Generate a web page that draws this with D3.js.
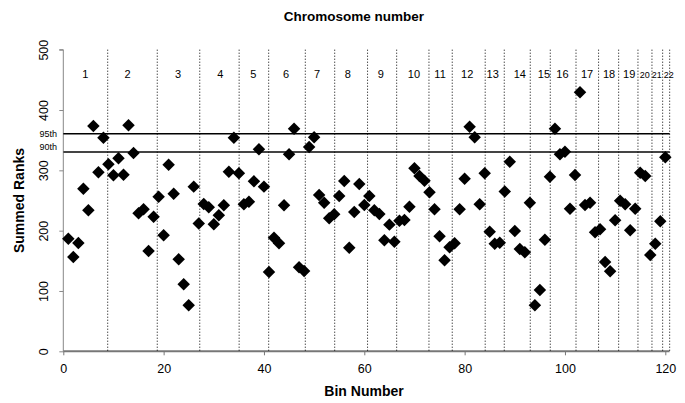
<!DOCTYPE html>
<html>
<head>
<meta charset="utf-8">
<script src="https://cdn.jsdelivr.net/npm/d3@7"></script>
<style>
  body { margin: 0; background: #fff; }
  text { font-family: "Liberation Sans", Arial, sans-serif; }
</style>
</head>
<body>
<svg id="chart" width="685" height="403"></svg>
<script>
// summed rank for each bin (bin 1..120)
const summedRanks = [
  186.7, 156.3, 179.5, 269.6, 234, 373.5, 296.7, 354, 310, 292,
  320, 292.8, 374.7, 328.7, 228.8, 235.4, 166.3, 223, 256.3, 192.3,
  309.4, 261.3, 152.5, 111, 76.2, 273, 212, 244, 238.7, 210.5,
  225.4, 242, 297.8, 354, 295, 243.7, 248, 281.8, 334.8, 273,
  131.5, 188.3, 179, 242, 326.6, 369, 139.3, 133.1, 338.7, 354.8,
  259, 246.4, 220.5, 227.1, 257.5, 282.3, 171.8, 231, 277.4, 242.5,
  257.5, 233.7, 227.6, 184, 210, 181.7, 216.5, 217.7, 239.7, 303.4,
  290.6, 282.8, 263.6, 235.4, 190.6, 150.9, 172.4, 179, 235.4, 286.2,
  372.4, 354.8, 243.7, 295, 198.3, 178.4, 180, 265, 314.3, 199.4,
  169.6, 164.1, 246.4, 76.2, 101.6, 185, 289.5, 369, 326.6, 331,
  236.4, 292.3, 429.4, 242.5, 246.4, 197.3, 202.2, 148, 132.6, 217.2,
  249.7, 243.7, 200.6, 236.4, 296, 290.6, 159.6, 178.4, 215.5, 321.6
];
const bins = summedRanks.map((d, i) => i + 1);

// chromosome boundaries (in bin units) and label positions
const boundaries = [8.85, 18.73, 27.2, 35.05, 40.94, 48.24, 54.1, 60.65, 66.45, 72.89,
  77.53, 84.1, 87.9, 93.08, 97.07, 102.2, 106.7, 110.7, 114.55, 117.34, 119.47, 120.87];
const chromosomes = ["1","2","3","4","5","6","7","8","9","10","11","12","13","14","15",
  "16","17","18","19","20","21","22"];
const labelPos = [4.4, 12.8, 22.9, 31.3, 37.9, 44.4, 50.6, 56.7, 63.3, 69.9, 75.1, 80.5,
  85.6, 91.0, 95.8, 99.5, 104.4, 108.8, 112.8, 115.9, 118.3, 120.7];

const thresholds = [360.7, 330.4];
const thresholdLabels = ["95th", "90th"];
const xTicks = [0, 20, 40, 60, 80, 100, 120];
const yTicks = [0, 100, 200, 300, 400, 500];

const svg = d3.select("#chart");
const x = d3.scaleLinear().domain([0, 120]).range([63.3, 665.3]);
const y = d3.scaleLinear().domain([0, 500]).range([351.3, 49.7]);

// title
svg.append("text")
  .attr("x", 354).attr("y", 21)
  .attr("text-anchor", "middle")
  .style("font-size", "13.5px").style("font-weight", "bold")
  .text("Chromosome number");

// y axis
const yAxis = svg.append("g")
  .attr("transform", `translate(${x(0)},0)`)
  .call(d3.axisLeft(y).tickValues(yTicks).tickSize(4).tickFormat(d3.format("d")));
yAxis.select(".domain").attr("stroke", "#888").attr("d", `M-4,${y(500)}H0V${y(0)}`);
yAxis.selectAll(".tick line").attr("stroke", "#888");
yAxis.selectAll(".tick text")
  .attr("transform", "rotate(-90)")
  .attr("x", 0).attr("dy", null)
  .attr("y", -15)
  .attr("text-anchor", "middle")
  .style("font-size", "12.5px")
  .attr("fill", "#000");
// rotate labels around their tick position
yAxis.selectAll(".tick text")
  .attr("transform", null)
  .each(function() {
    d3.select(this).attr("transform", "translate(-20,0) rotate(-90)").attr("y", 0).attr("x", 0)
      .attr("dy", "0.35em");
  });

// x axis
const xAxis = svg.append("g")
  .attr("transform", `translate(0,${y(0)})`)
  .call(d3.axisBottom(x).tickValues(xTicks).tickSize(4).tickPadding(9));
xAxis.select(".domain").attr("stroke", "#777").attr("stroke-width", 2)
  .attr("d", `M${x(0)},0H${x(120.85)}`);
xAxis.selectAll(".tick line").attr("stroke", "#777");
xAxis.selectAll(".tick text").style("font-size", "12.5px").attr("fill", "#000");

// axis titles
svg.append("text")
  .attr("x", 364).attr("y", 396)
  .attr("text-anchor", "middle")
  .style("font-size", "14px").style("font-weight", "bold")
  .text("Bin Number");
svg.append("text")
  .attr("transform", `translate(24,${y(250)}) rotate(-90)`)
  .attr("text-anchor", "middle")
  .style("font-size", "14px").style("font-weight", "bold")
  .text("Summed Ranks");

// threshold lines
svg.selectAll(".thresh")
  .data(thresholds)
  .enter().append("line")
  .attr("class", "thresh")
  .attr("x1", x(0)).attr("x2", x(120.87))
  .attr("y1", d => y(d)).attr("y2", d => y(d))
  .attr("stroke", (d, i) => i == 0 ? "#000" : "#444")
  .attr("stroke-width", (d, i) => i == 0 ? 1.3 : 1.8);
svg.selectAll(".threshLabel")
  .data(thresholds)
  .enter().append("text")
  .attr("class", "threshLabel")
  .attr("x", 57)
  .attr("y", (d, i) => y(d) + (i == 0 ? 3 : -2))
  .attr("text-anchor", "end")
  .style("font-size", "9px")
  .text((d, i) => thresholdLabels[i]);

// points
svg.append("g").selectAll("path")
  .data(bins)
  .enter().append("path")
  .attr("d", d3.symbol().type(d3.symbolSquare).size(78))
  .attr("transform", (d, i) => `translate(${x(d)},${y(summedRanks[i])}) rotate(45)`)
  .attr("fill", "#000");

// chromosome boundaries, drawn over the points
svg.selectAll(".bound")
  .data(boundaries)
  .enter().append("line")
  .attr("class", "bound")
  .attr("x1", d => x(d)).attr("x2", d => x(d))
  .attr("y1", y(500)).attr("y2", y(0))
  .attr("stroke", "#000")
  .attr("stroke-width", 1)
  .attr("stroke-dasharray", "1,2");

// chromosome labels
svg.selectAll(".chrom")
  .data(chromosomes)
  .enter().append("text")
  .attr("class", "chrom")
  .attr("x", (d, i) => x(labelPos[i]))
  .attr("y", 78)
  .attr("text-anchor", "middle")
  .style("font-size", (d, i) => i >= 19 ? "9px" : "11px")
  .text(d => d);
</script>
</body>
</html>
